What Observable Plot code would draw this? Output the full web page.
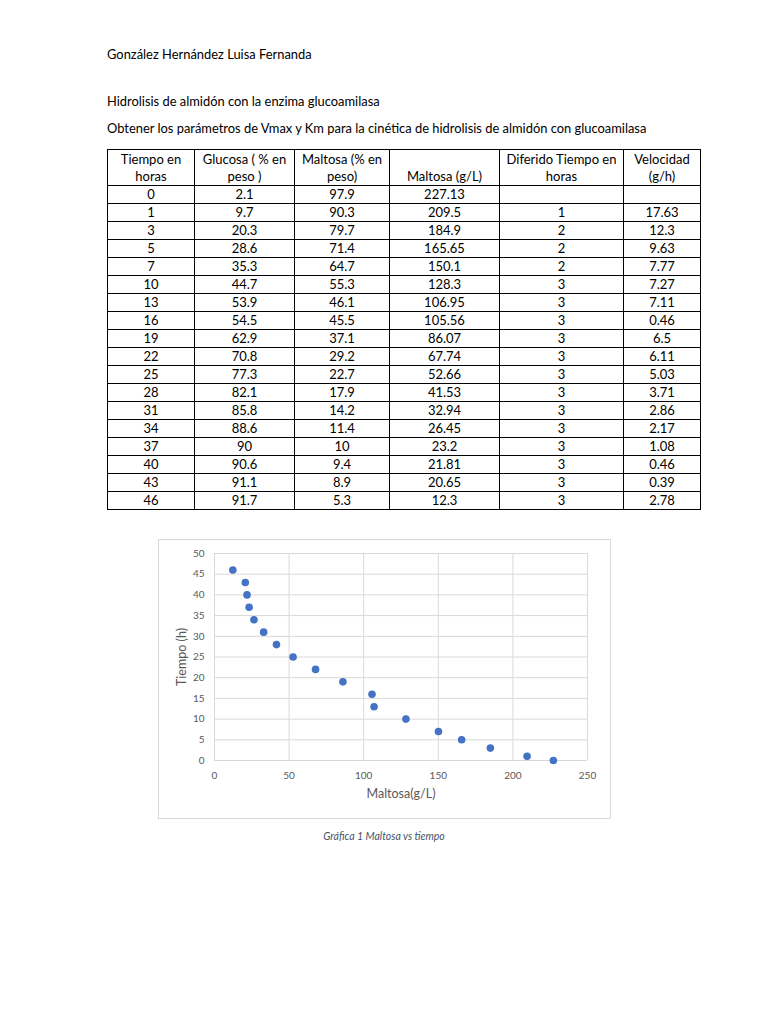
<!DOCTYPE html>
<html>
<head>
<meta charset="utf-8">
<script src="https://cdn.jsdelivr.net/npm/d3@7"></script>
<script src="https://cdn.jsdelivr.net/npm/@observablehq/plot@0.6"></script>
<style>
  html, body { margin: 0; padding: 0; background: #fff; }
  body { width: 768px; height: 1024px; position: relative; font-family: Lato, "Open Sans", sans-serif; color: #000; overflow: hidden; }
  .line { position: absolute; left: 107px; font-size: 12.9px; white-space: nowrap; }
  table { position: absolute; left: 107px; top: 149px; border-collapse: collapse; table-layout: fixed; font-size: 13px; }
  td, th { border: 1px solid #000; padding: 0; text-align: center; font-weight: normal; line-height: 17px; }
  th { height: 35px; vertical-align: bottom; }
  td { height: 17px; }
  #chartbox { position: absolute; left: 158px; top: 539px; width: 451px; height: 278px; border: 1px solid #d9d9d9; }
  #chart { position: absolute; left: 158px; top: 539px; }
  #caption { position: absolute; left: 0; width: 768px; top: 830px; text-align: center; font-style: italic; font-size: 10.5px; color: #44546a; }
</style>
</head>
<body>
<div class="line" style="top:46px">González Hernández Luisa Fernanda</div>
<div class="line" style="top:93px">Hidrolisis de almidón con la enzima glucoamilasa</div>
<div class="line" style="top:120px">Obtener los parámetros de Vmax y Km para la cinética de hidrolisis de almidón con glucoamilasa</div>
<table id="tbl"></table>
<div id="chartbox"></div>
<div id="chart"></div>
<div id="caption">Gráfica 1 Maltosa vs tiempo</div>
<script>
const headers = [["Tiempo en", "horas"], ["Glucosa ( % en", "peso )"], ["Maltosa (% en", "peso)"], ["", "Maltosa (g/L)"], ["Diferido Tiempo en", "horas"], ["Velocidad", "(g/h)"]];
const colWidths = [87, 100, 95, 110, 124, 77];
const tiempo = ["0","1","3","5","7","10","13","16","19","22","25","28","31","34","37","40","43","46"];
const glucosa = ["2.1","9.7","20.3","28.6","35.3","44.7","53.9","54.5","62.9","70.8","77.3","82.1","85.8","88.6","90","90.6","91.1","91.7"];
const maltosaPct = ["97.9","90.3","79.7","71.4","64.7","55.3","46.1","45.5","37.1","29.2","22.7","17.9","14.2","11.4","10","9.4","8.9","5.3"];
const maltosaGL = ["227.13","209.5","184.9","165.65","150.1","128.3","106.95","105.56","86.07","67.74","52.66","41.53","32.94","26.45","23.2","21.81","20.65","12.3"];
const diferido = ["","1","2","2","2","3","3","3","3","3","3","3","3","3","3","3","3","3"];
const velocidad = ["","17.63","12.3","9.63","7.77","7.27","7.11","0.46","6.5","6.11","5.03","3.71","2.86","2.17","1.08","0.46","0.39","2.78"];
const xTicks = [0, 50, 100, 150, 200, 250];
const yTicks = [0, 5, 10, 15, 20, 25, 30, 35, 40, 45, 50];

// Table
const tbl = document.getElementById("tbl");
const colgroup = document.createElement("colgroup");
colWidths.forEach(w => { const c = document.createElement("col"); c.style.width = w + "px"; colgroup.appendChild(c); });
tbl.appendChild(colgroup);
const hr = document.createElement("tr");
headers.forEach(h => { const th = document.createElement("th"); th.innerHTML = (h[0] ? h[0] : "") + "<br>" + h[1]; hr.appendChild(th); });
tbl.appendChild(hr);
const cols = [tiempo, glucosa, maltosaPct, maltosaGL, diferido, velocidad];
tiempo.forEach((_, i) => {
  const tr = document.createElement("tr");
  cols.forEach(c => { const td = document.createElement("td"); td.textContent = c[i]; tr.appendChild(td); });
  tbl.appendChild(tr);
});

// Chart
const points = tiempo.map((t, i) => ({ maltosa: +maltosaGL[i], tiempo: +t }));
const chart = Plot.plot({
  width: 452,
  height: 279,
  marginLeft: 56,
  marginRight: 23,
  marginTop: 14,
  marginBottom: 58,
  style: { fontFamily: "Lato, sans-serif", fontSize: "10px", color: "#595959", background: "transparent" },
  x: { domain: [0, 250], ticks: xTicks },
  y: { domain: [0, 50], ticks: yTicks },
  marks: [
    Plot.gridX(xTicks, { stroke: "#d9d9d9", strokeOpacity: 1 }),
    Plot.gridY(yTicks, { stroke: "#d9d9d9", strokeOpacity: 1 }),
    Plot.axisX({ ticks: xTicks, tickSize: 0, tickPadding: 11, label: "Maltosa(g/L)", labelAnchor: "center", labelArrow: "none", labelOffset: 37, fontSize: 10, fill: "#595959" }),
    Plot.axisY({ ticks: yTicks, tickSize: 0, tickPadding: 10, label: "Tiempo (h)", labelAnchor: "center", labelArrow: "none", labelOffset: 37, fontSize: 10, fill: "#595959" }),
    Plot.dot(points, { x: "maltosa", y: "tiempo", r: 3.8, fill: "#4472c4", stroke: "none" })
  ]
});
document.getElementById("chart").appendChild(chart);
// axis label font size
chart.querySelectorAll("g[aria-label='x-axis label'] text, g[aria-label='y-axis label'] text").forEach(t => { t.style.fontSize = "12.5px"; });
</script>
</body>
</html>
